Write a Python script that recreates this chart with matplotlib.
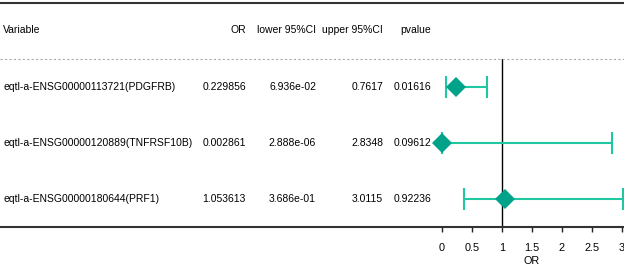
"""
Forest plot of eQTL odds ratios with a text table on the left.
"""

import matplotlib.pyplot as plt
from matplotlib.transforms import blended_transform_factory

plt.rcParams['font.family'] = ['Liberation Sans', 'DejaVu Sans']
plt.rcParams['font.size'] = 7.5

# table data
variables = ['eqtl-a-ENSG00000113721(PDGFRB)',
             'eqtl-a-ENSG00000120889(TNFRSF10B)',
             'eqtl-a-ENSG00000180644(PRF1)']
or_vals = [0.229856, 0.002861, 1.053613]
lower_ci = [6.936e-02, 2.888e-06, 3.686e-01]
upper_ci = [0.7617, 2.8348, 3.0115]
pvalues = ['0.01616', '0.09612', '0.92236']

or_txt = ['0.229856', '0.002861', '1.053613']
lower_txt = ['6.936e-02', '2.888e-06', '3.686e-01']
upper_txt = ['0.7617', '2.8348', '3.0115']

headers = ['Variable', 'OR', 'lower 95%CI', 'upper 95%CI', 'pvalue']
xticks = [0, 0.5, 1, 1.5, 2, 2.5, 3]
xtick_labels = ['0', '0.5', '1', '1.5', '2', '2.5', '3']

W, H = 624, 269
fig = plt.figure(figsize=(W / 100, H / 100), dpi=100)

# forest panel: rows span from dashed line (y=58) to bottom rule (y=227)
x0, x1 = 441.7, 622.0
y_top, y_bot = 58.5, 227.0
ax = fig.add_axes([x0 / W, 1 - y_bot / H, (x1 - x0) / W, (y_bot - y_top) / H])
ax.set_xlim(0, 3)
ax.set_ylim(2.5, -0.5)

rows = list(range(len(variables)))
xerr = [[o - l for o, l in zip(or_vals, lower_ci)],
        [u - o for o, u in zip(or_vals, upper_ci)]]

ax.axvline(1, color='black', lw=1.0, zorder=1)
ax.errorbar(or_vals, rows, xerr=xerr, fmt='none', ecolor='#1fc8a0',
            elinewidth=1.5, capsize=7.8, capthick=1.5, clip_on=False, zorder=2)
ax.plot(or_vals, rows, 'D', color='#00a389', ms=10.5, mew=0,
        clip_on=False, zorder=3)

for s in ['top', 'right', 'left', 'bottom']:
    ax.spines[s].set_visible(False)
ax.set_yticks([])
ax.set_xticks(xticks)
ax.set_xticklabels(xtick_labels)
ax.tick_params(axis='x', direction='out', length=3.8, width=1.0,
               color='#222222', pad=8, labelsize=7.8)
ax.set_xlabel('OR', labelpad=2, fontsize=7.8)

# text table, x in figure coords, y in row units
tr = blended_transform_factory(fig.transFigure, ax.transData)
col_x = [3 / W, 246 / W, 316 / W, 383 / W, 431 / W]
col_ha = ['left', 'right', 'right', 'right', 'right']

for cx, ha, h in zip(col_x, col_ha, headers):
    ax.text(cx, -1.0, h, transform=tr, ha=ha, va='center', clip_on=False)

cols = [variables, or_txt, lower_txt, upper_txt, pvalues]
for cx, ha, col in zip(col_x, col_ha, cols):
    for r, val in zip(rows, col):
        ax.text(cx, r, val, transform=tr, ha=ha, va='center', clip_on=False)

# rules across the whole figure
ax.plot([0, 1], [-1.49, -1.49], transform=tr, color='#333333', lw=1.5,
        clip_on=False)
ax.plot([0, 1], [-0.5, -0.5], transform=tr, color='#aaaaaa', lw=0.8,
        ls=(0, (2, 2)), clip_on=False)
ax.plot([0, 1], [2.5, 2.5], transform=tr, color='#333333', lw=1.5,
        clip_on=False)

fig.savefig('out.png', dpi=100)
